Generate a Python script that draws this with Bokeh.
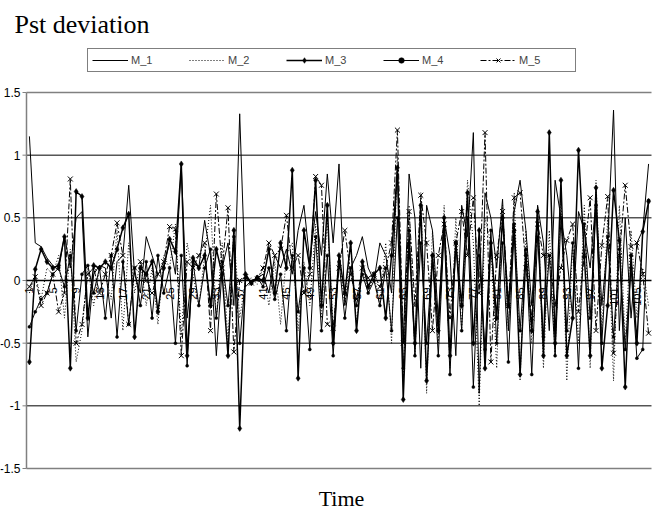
import numpy as np
from bokeh.plotting import figure
from bokeh.models import Label, Legend, LegendItem
from bokeh.core.properties import value
from bokeh.embed import file_html
from bokeh.resources import INLINE

categories = list(range(1, 108))

m1 = [1.15, 0.30, 0.27, 0.18, 0.12, 0.08, 0.36, 0.10, 0.50, 0.55,
      -0.45, 0.05, 0.12, 0.10, -0.30, 0.15, 0.20, 0.76, 0.05, -0.10,
      0.35, 0.20, 0.05, 0.12, 0.30, 0.05, 0.92, -0.30, 0.15, 0.10,
      0.48, 0.20, -0.60, 0.10, 0.30, -0.20, 1.33, -0.05, 0.00, 0.02,
      0.05, -0.10, 0.20, 0.10, 0.25, 0.05, 0.40, 0.60, 0.15, 0.55,
      0.20, 0.85, 0.30, 0.93, -0.20, 0.10, 0.20, 0.35, 0.10, 0.00,
      0.30, 0.20, -0.10, 0.90, -0.50, 0.85, 0.50, -0.70, 0.60, 0.40,
      -0.30, 0.50, 0.20, -0.60, 0.60, 0.35, 1.18, -0.90, 0.70, 0.50,
      0.10, 0.65, -0.40, 0.55, 0.80, 0.40, -0.20, 0.60, 0.30, -0.40,
      0.80, 0.50, 0.20, -0.30, 0.55, 0.40, 0.10, 0.65, -0.20, 0.30,
      1.36, -0.40, 0.50, -0.30, 0.30, 0.40, 0.93]

m2 = [-0.10, 0.05, -0.15, 0.10, 0.05, 0.20, -0.30, 0.25, -0.65, -0.40,
      0.10, -0.20, 0.10, 0.05, -0.15, 0.40, -0.40, 0.30, -0.10, 0.15,
      -0.20, 0.10, -0.35, 0.20, 0.10, 0.45, -0.45, 0.30, 0.05, -0.20,
      0.20, 0.60, -0.30, 0.30, -0.50, 0.40, -0.30, 0.00, 0.02, -0.03,
      0.10, -0.20, 0.15, -0.35, 0.20, 0.30, -0.40, 0.15, -0.20, 0.45,
      -0.30, 0.50, -0.40, 0.20, -0.20, 0.30, -0.35, 0.10, -0.10, 0.05,
      -0.20, 0.30, -0.50, 1.00, -0.80, 0.60, -0.60, 0.70, -0.90, 0.40,
      -0.50, 0.60, -0.70, 0.50, -0.40, 0.80, 0.30, -1.00, 0.50, 0.30,
      -0.70, 0.60, -0.40, 0.70, -0.80, 0.40, -0.50, 0.60, -0.70, 0.40,
      -0.60, 0.70, -0.80, 0.30, -0.50, 0.60, -0.70, 0.80, -0.40, 0.50,
      -0.80, 0.60, -0.50, 0.40, -0.30, 0.10, -0.20]

m3 = [-0.65, 0.09, 0.25, 0.15, 0.10, 0.12, 0.35, -0.70, 0.71, 0.67,
      -0.30, 0.12, 0.10, 0.15, 0.10, 0.25, 0.42, 0.53, -0.45, 0.10,
      0.05, 0.15, -0.25, 0.10, 0.33, 0.23, 0.93, -0.60, 0.18, 0.10,
      0.20, -0.20, 0.25, 0.05, -0.60, 0.40, -1.18, 0.05, -0.02, 0.02,
      0.00, 0.25, -0.10, 0.30, 0.10, 0.88, -0.78, 0.40, 0.10, 0.80,
      -0.20, 0.60, -0.50, 0.20, -0.10, 0.30, -0.40, 0.15, -0.05, 0.05,
      0.10, -0.30, 0.20, 0.90, -0.95, 0.30, -0.50, 0.60, -0.80, 0.20,
      -0.40, 0.50, -0.60, 0.30, -0.20, 0.70, -0.50, 0.40, -0.70, 0.30,
      -0.30, 0.50, -0.20, 0.40, -0.75, 0.20, -0.40, 0.55, -0.60, 1.18,
      -0.50, 0.80, -0.60, -0.30, 1.04, 0.19, -0.60, 0.74, -0.70, -0.20,
      0.72, 0.32, -0.85, 0.20, -0.50, 0.39, 0.63]

m4 = [-0.37, -0.25, -0.15, -0.10, 0.05, 0.10, -0.05, 0.20, -0.40, 0.05,
      0.12, -0.10, 0.10, -0.30, 0.20, -0.45, 0.15, -0.35, 0.10, -0.20,
      0.15, -0.30, 0.20, -0.10, 0.10, -0.50, 0.20, -0.68, 0.15, -0.20,
      0.10, 0.25, -0.30, 0.15, -0.20, 0.35, -0.50, 0.02, -0.02, 0.03,
      -0.05, 0.10, -0.15, 0.05, -0.40, 0.20, -0.25, 0.10, -0.55, 0.35,
      -0.40, 0.20, -0.60, 0.15, -0.30, 0.10, -0.20, 0.05, -0.10, 0.00,
      -0.20, 0.10, -0.40, 0.50, -0.70, 0.40, -0.60, 0.30, -0.50, 0.20,
      -0.60, 0.40, -0.75, 0.30, -0.40, 0.50, -0.85, 0.20, -0.55, 0.40,
      -0.50, 0.30, -0.65, 0.45, -0.40, 0.25, -0.75, 0.35, -0.45, 0.20,
      -0.60, 0.50, -0.40, 0.30, -0.70, 0.45, -0.30, 0.60, -0.50, 0.35,
      -0.45, 0.25, -0.55, 0.10, -0.62, -0.55, 0.64]

m5 = [-0.05, 0.03, -0.20, -0.10, 0.05, -0.25, -0.10, 0.81, -0.50, -0.35,
      0.05, 0.10, -0.10, 0.05, 0.20, 0.46, 0.20, -0.35, 0.10, 0.15,
      0.00, -0.10, 0.05, 0.15, 0.43, 0.41, -0.60, 0.15, 0.10, 0.20,
      0.30, -0.40, 0.69, 0.10, 0.58, -0.57, 0.00, 0.03, -0.02, 0.01,
      0.10, 0.30, 0.20, 0.25, 0.52, 0.10, 0.20, -0.10, 0.05, 0.83,
      0.76, -0.35, -0.38, 0.10, 0.40, 0.05, -0.15, 0.10, 0.02, 0.05,
      -0.05, 0.10, 0.30, 1.20, -0.50, 0.55, -0.20, 0.68, 0.30, -0.40,
      0.20, 0.45, -0.30, 0.30, 0.55, 0.20, 0.66, -0.10, 1.18, -0.65,
      0.20, 0.55, -0.20, 0.66, 0.70, 0.10, -0.30, 0.45, 0.20, 0.20,
      -0.20, 0.10, 0.32, 0.45, -0.25, 0.20, 0.66, -0.40, 0.28, 0.67,
      -0.58, 0.20, 0.76, 0.27, 0.30, 0.05, -0.42]

series_names = ["M_1", "M_2", "M_3", "M_4", "M_5"]
y_ticks = [-1.5, -1.0, -0.5, 0.0, 0.5, 1.0, 1.5]
y_tick_labels = ["-1.5", "-1", "-0.5", "0", "0.5", "1", "1.5"]
x_tick_positions = categories[::4]
x_tick_labels = [str(c) for c in x_tick_positions]

# ---- layout (pixels) ----
W, H = 657, 513
FL, FR, FT, FB = 26, 651, 92, 468
SANS = "Liberation Sans"
SERIF = "Liberation Serif"

n = len(categories)
y_lo, y_hi = y_ticks[0], y_ticks[-1]
ppc = (FR - FL) / n                      # pixels per category
ppu = (FB - FT) / (y_hi - y_lo)          # pixels per value unit
x0, x1 = 0.5, n + 0.5
xr = (x0 - FL / ppc, x1 + (W - FR) / ppc)
yr = (y_lo - (H - FB) / ppu, y_hi + FT / ppu)

p = figure(width=W, height=H, output_backend="svg", toolbar_location=None,
           x_range=xr, y_range=yr, x_axis_location=None, y_axis_location=None,
           min_border=0)
p.outline_line_color = None
p.grid.visible = False
p.background_fill_color = "white"
p.border_fill_color = "white"

# horizontal grid lines (black) and plot-area top/bottom (grey)
inner = [t for t in y_ticks if t not in (y_lo, y_hi, 0.0)]
p.segment(x0=[x0] * len(inner), x1=[x1] * len(inner), y0=inner, y1=inner,
          line_color="black", line_width=1)
p.segment(x0=[x0, x0], x1=[x1, x1], y0=[y_lo, y_hi], y1=[y_lo, y_hi],
          line_color="#808080", line_width=1.5)

# y axis: line, ticks, labels
p.segment(x0=[x0], x1=[x0], y0=[y_lo], y1=[y_hi], line_color="#808080", line_width=1.5)
tick_len = 4 / ppc
p.segment(x0=[x0 - tick_len] * len(y_ticks), x1=[x0] * len(y_ticks), y0=y_ticks, y1=y_ticks,
          line_color="#808080", line_width=1)
p.text(x=[x0] * len(y_ticks), y=y_ticks, text=y_tick_labels, x_offset=-6,
       text_align="right", text_baseline="middle",
       text_font=value(SANS), text_font_size="12px", text_color="black")

# series
styles = [
    dict(dash="solid", width=1.0, marker=None, size=0),
    dict(dash="1 2", width=1.0, marker=None, size=0),
    dict(dash="solid", width=1.5, marker="diamond", size=6),
    dict(dash="solid", width=1.0, marker="circle", size=3),
    dict(dash="6 2 2 2", width=1.0, marker="x", size=7),
]
items = []
for name, data, st in zip(series_names, [m1, m2, m3, m4, m5], styles):
    rs = [p.line(categories, data, line_color="black", line_width=st["width"], line_dash=st["dash"])]
    if st["marker"]:
        rs.append(p.scatter(categories, data, marker=st["marker"], size=st["size"],
                            line_color="black", fill_color="black",
                            line_width=1 if st["marker"] == "x" else 0.5))
    items.append(LegendItem(label=name, renderers=rs))

# category (x) axis along the zero line, labels rotated just below it
p.segment(x0=[x0], x1=[x1], y0=[0.0], y1=[0.0], line_color="black", line_width=1.5)
label_drop = 7 / ppu
p.text(x=x_tick_positions, y=[0.0 - label_drop] * len(x_tick_positions), text=x_tick_labels,
       angle=np.pi / 2, text_align="right", text_baseline="middle",
       text_font=value(SANS), text_font_size="11px", text_color="black")

legend = Legend(items=items, orientation="horizontal",
                location=(87, H - 72),
                border_line_color="black", border_line_width=1,
                background_fill_color="white", background_fill_alpha=1,
                padding=4, margin=0, spacing=6,
                glyph_width=36, glyph_height=14, label_height=14, label_width=52,
                label_standoff=3, label_text_font=SANS, label_text_font_size="11px")
p.add_layout(legend, "center")

p.add_layout(Label(x=14, y=H - 38, x_units="screen", y_units="screen",
                   text="Pst deviation", text_font=SERIF, text_font_size="26px",
                   text_baseline="bottom", text_color="black"))
p.add_layout(Label(x=341, y=3, x_units="screen", y_units="screen",
                   text="Time", text_font=SERIF, text_font_size="22px",
                   text_align="center", text_baseline="bottom", text_color="black"))

open("out.html", "w").write(file_html(p, INLINE))
